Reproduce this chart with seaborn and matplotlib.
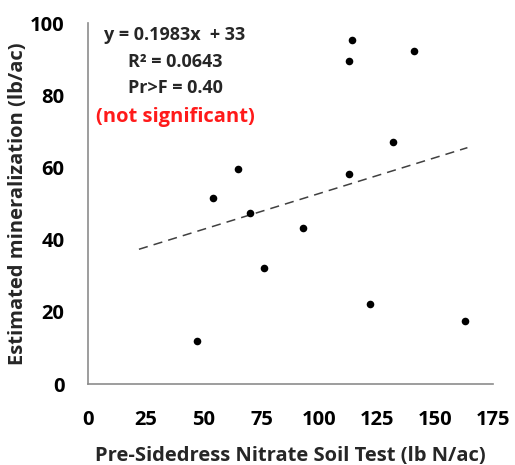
import numpy as np
import pandas as pd
import matplotlib
matplotlib.use("Agg")
import matplotlib.pyplot as plt
import seaborn as sns

# Values
psnt = [47, 54, 65, 70, 76, 93, 113, 113, 114, 132, 141, 122, 163]
mineralization = [12, 51.5, 59.5, 47.3, 32.3, 43.2, 58.3, 89.4, 95.4, 67.1, 92.3, 22.2, 17.4]
trend_x = [22, 164]
slope = 0.1983
intercept = 33
x_ticks = [0, 25, 50, 75, 100, 125, 150, 175]
y_ticks = [0, 20, 40, 60, 80, 100]

sns.set_theme(style="white")
plt.rcParams['font.family'] = ['Open Sans', 'DejaVu Sans']

df = pd.DataFrame({'PSNT': psnt, 'Min': mineralization})
trend_y = [slope * x + intercept for x in trend_x]

fig = plt.figure(figsize=(5.15, 4.65), dpi=100)
ax = fig.add_axes([0.171, 0.174, 0.786, 0.776])

sns.scatterplot(data=df, x='PSNT', y='Min', ax=ax, color='black', s=30,
                edgecolor='black', linewidth=0, zorder=3)
ax.plot(trend_x, trend_y, color='#404040', linestyle=(0, (6, 4)), linewidth=1.1)

ax.set_xlim(0, 175)
ax.set_ylim(0, 100)
ax.set_xticks(x_ticks)
ax.set_yticks(y_ticks)
ax.set_xticklabels([str(t) for t in x_ticks], fontsize=14.5, fontweight='bold')
ax.set_yticklabels([str(t) for t in y_ticks], fontsize=14.5, fontweight='bold')
ax.set_xlabel('Pre-Sidedress Nitrate Soil Test (lb N/ac)', fontsize=14.5,
              fontweight='bold', labelpad=11)
ax.set_ylabel('Estimated mineralization (lb/ac)', fontsize=14.5,
              fontweight='bold', labelpad=1)

for side in ['top', 'right']:
    ax.spines[side].set_visible(False)
for side in ['left', 'bottom']:
    ax.spines[side].set_color('#8c8c8c')
    ax.spines[side].set_linewidth(1.2)
ax.tick_params(axis='both', direction='out', length=5, width=1.2,
               color='#8c8c8c', labelcolor='black')
ax.tick_params(axis='y', pad=12)
ax.tick_params(axis='x', length=6, pad=13)

ax.text(0.215, 0.967, 'y = 0.1983x  + 33', transform=ax.transAxes, ha='center',
        va='center', fontsize=13, fontweight='bold')
ax.text(0.215, 0.892, 'R² = 0.0643', transform=ax.transAxes, ha='center',
        va='center', fontsize=13, fontweight='bold')
ax.text(0.215, 0.82, 'Pr>F = 0.40', transform=ax.transAxes, ha='center',
        va='center', fontsize=13, fontweight='bold')
ax.text(0.215, 0.74, '(not significant)', transform=ax.transAxes, ha='center',
        va='center', fontsize=14.5, fontweight='bold', color='#ff1a1a')

fig.savefig('out.png', dpi=100, facecolor='white')
plt.close(fig)
